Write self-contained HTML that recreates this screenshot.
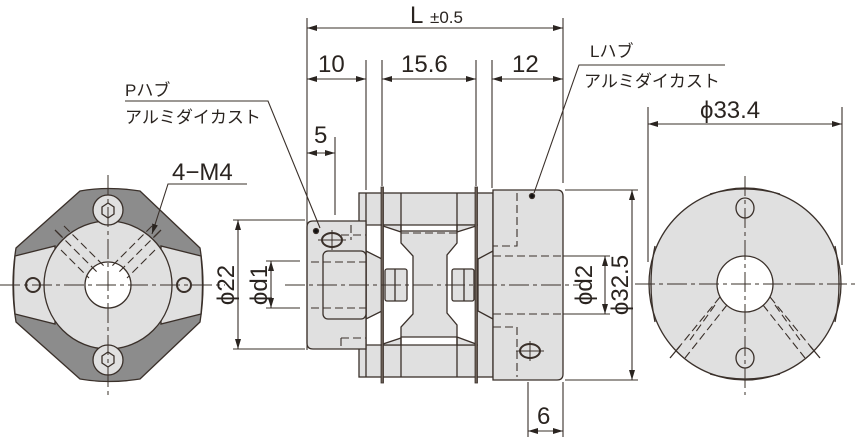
<!DOCTYPE html>
<html><head><meta charset="utf-8"><style>
html,body{margin:0;padding:0;background:#fff}
svg{display:block}
text{font-family:"Liberation Sans","Noto Sans CJK JP",sans-serif;fill:#2a2420}
</style></head><body>
<svg width="855" height="437" viewBox="0 0 855 437" xmlns="http://www.w3.org/2000/svg">
<defs>
<marker id="a" viewBox="0 0 10 6" refX="10" refY="3" markerWidth="10" markerHeight="6" orient="auto-start-reverse" markerUnits="userSpaceOnUse"><path d="M0,0L10,3L0,6z" fill="#2a2420"/></marker>
</defs>
<g stroke="#3a302a" stroke-width="1.3" fill="none">
<!-- LEFT END VIEW -->
<path d="M80,191 Q108,186 140,191 L200,248 Q206,285 200,322 L140,379 Q108,384 80,379 L16,322 Q10,285 16,248 Z" fill="#8c8c8c"/>
<path d="M15,256 L55,246 L55,324 L15,314 Q12,285 15,256Z" fill="#e0e0e0"/>
<path d="M201,256 L161,246 L161,324 L201,314 Q204,285 201,256Z" fill="#e0e0e0"/>
<circle cx="108" cy="285" r="64" fill="#e0e0e0"/>
<circle cx="108" cy="210" r="15" fill="#e0e0e0"/>
<circle cx="108" cy="360" r="15" fill="#e0e0e0"/>
<path d="M102,207 L108,203 L114,207 L114,214 L108,218 L102,214Z"/>
<path d="M102,356 L108,352 L114,356 L114,363 L108,367 L102,363Z"/>
<circle cx="33" cy="285" r="7" stroke-width="2"/>
<circle cx="184" cy="285" r="7" stroke-width="2"/>
<circle cx="108" cy="285" r="23" fill="#fff"/>
<g stroke-dasharray="8,4" stroke-width="1.1">
<path d="M57,232 L99,274 M64,226 L106,268 M61,250 L89,278"/>
<path d="M159,232 L117,274 M152,226 L110,268 M155,250 L127,278"/>
</g>
<path d="M55,230 L62,237 M161,230 L154,237"/>
<path d="M0,285 H225 M108,175 V395" stroke-dasharray="20,4,4,4" stroke-width="1"/>
<!-- MIDDLE SIDE VIEW -->
<rect x="359" y="193" width="134" height="184" fill="#e0e0e0"/>
<rect x="367" y="225" width="111" height="120" fill="#fff" stroke="none"/>
<path d="M367,225 H478 M367,345 H478"/>
<path d="M383,225 L401,225 V231 L457,231 V225 L476,225 V226 L457,232 V243 L447,255 V313 L457,325 V337 L476,344 V345 L457,345 V337 L401,337 V345 L383,345 V344 L401,338 V327 L413,314 V256 L401,243 V232 L383,226Z" fill="#e0e0e0"/>
<path d="M401,193 V231 M457,193 V231 M401,337 V377 M457,337 V377"/>
<path d="M366,251 L382,259 V311 L366,319Z" fill="#e0e0e0"/>
<path d="M478,259 L493,251 V319 L478,311Z" fill="#e0e0e0"/>
<rect x="385" y="269" width="22" height="32" rx="2" fill="#e0e0e0"/>
<rect x="452" y="269" width="22" height="32" rx="2" fill="#e0e0e0"/>
<line x1="395" y1="269" x2="395" y2="301"/><line x1="464" y1="269" x2="464" y2="301"/>
<rect x="381" y="187" width="2.5" height="196" fill="#6a5e56" stroke-width="0.8"/>
<rect x="475" y="187" width="2.5" height="196" fill="#6a5e56" stroke-width="0.8"/>
<line x1="366" y1="193" x2="366" y2="377"/>
<path d="M493,190 H557 Q563,190 563,196 V374 Q563,380 557,380 H493 Z" fill="#e0e0e0"/>
<path d="M313,221 H366 V349 H313 Q307,349 307,343 V227 Q307,221 313,221Z" fill="#e0e0e0"/>
<rect x="323" y="251" width="43" height="68" rx="5" fill="#e0e0e0"/>
<g stroke-dasharray="8,4" stroke-width="1.1">
<path d="M311,262 H366 M311,308 H366 M351,225 V240 M341,235 H366 M341,338 V349 M341,338 H366"/>
<path d="M366,225 H382 M366,345 H382 M401,233 H457 M401,337 H457"/>
<path d="M493,256 H563 M493,314 H563 M517,193 V246 H493 M517,327 V377 M493,327 H517"/>
</g>
<ellipse cx="332" cy="240" rx="10" ry="7" fill="#e0e0e0" stroke-width="2"/>
<ellipse cx="530" cy="351" rx="10" ry="7" fill="#e0e0e0" stroke-width="2"/>
<path d="M318,240 H346 M332,230 V250 M516,351 H544 M530,341 V361" stroke-width="1"/>
<circle cx="316" cy="231" r="2.5" fill="#111"/>
<circle cx="532" cy="196" r="2.5" fill="#111"/>
<path d="M285,285 H580" stroke-dasharray="20,4,4,4" stroke-width="1"/>
<!-- RIGHT END VIEW -->
<circle cx="745" cy="284" r="96" fill="#e0e0e0"/>
<path d="M710,194 Q745,184 780,194 M655,246 Q647,284 655,322 M835,246 Q843,284 835,322 M710,374 Q745,384 780,374"/>
<circle cx="745" cy="284" r="28" fill="#fff"/>
<ellipse cx="745" cy="208" rx="9" ry="10"/>
<ellipse cx="745" cy="358" rx="9" ry="10"/>
<g stroke-dasharray="8,4" stroke-width="1.1">
<path d="M720,297 L675,352 M727,305 L685,358 M715,305 L690,340"/>
<path d="M770,297 L815,352 M763,305 L805,358 M775,305 L800,340"/>
</g>
<path d="M670,358 L680,346 M820,358 L810,346"/>
<path d="M635,284 H855 M745,176 V395" stroke-dasharray="20,4,4,4" stroke-width="1"/>
<!-- DIMENSIONS -->
<g stroke-width="1.1">
<path d="M307,18 V350 M366,60 V190 M382,60 V186 M476,60 V186 M492,60 V188 M563,18 V183 M335,137 V215"/>
<path d="M307,28 H563" marker-start="url(#a)" marker-end="url(#a)"/>
<path d="M307,79 H366" marker-start="url(#a)" marker-end="url(#a)"/>
<path d="M382,79 H476" marker-start="url(#a)" marker-end="url(#a)"/>
<path d="M492,79 H563" marker-start="url(#a)" marker-end="url(#a)"/>
<path d="M307,153 H335" marker-start="url(#a)" marker-end="url(#a)"/>
<path d="M233,220 H305 M233,349 H305 M266,261 H300 M266,308 H300"/>
<path d="M238,220 V349" marker-start="url(#a)" marker-end="url(#a)"/>
<path d="M271,261 V308" marker-start="url(#a)" marker-end="url(#a)"/>
<path d="M563,256 H610 M563,314 H610 M565,190 H638 M565,380 H638"/>
<path d="M605,256 V314" marker-start="url(#a)" marker-end="url(#a)"/>
<path d="M632,190 V380" marker-start="url(#a)" marker-end="url(#a)"/>
<path d="M648,107 V262 M842,107 V265"/>
<path d="M648,124 H842" marker-start="url(#a)" marker-end="url(#a)"/>
<path d="M528,382 V437 M563,382 V437"/>
<path d="M528,431 H563" marker-start="url(#a)" marker-end="url(#a)"/>
<path d="M125,101 H268 L320,228"/>
<path d="M725,65 H579 L534,193"/>
<path d="M247,184 H168 L152,234" marker-end="url(#a)"/>
</g>
</g>
<g font-size="24">
<text x="410" y="23">L</text><text x="430" y="23" font-size="17">±0.5</text>
<text x="318" y="72">10</text>
<text x="401" y="72">15.6</text>
<text x="512" y="72">12</text>
<text x="314" y="143">5</text>
<text x="172" y="180">4−M4</text>
<text x="537" y="424">6</text>
<text x="700" y="118">ϕ33.4</text>
<text transform="translate(234,285) rotate(-90)" text-anchor="middle">ϕ22</text>
<text transform="translate(267,285) rotate(-90)" text-anchor="middle">ϕd1</text>
<text transform="translate(592,285) rotate(-90)" text-anchor="middle">ϕd2</text>
<text transform="translate(628,285) rotate(-90)" text-anchor="middle">ϕ32.5</text>
</g>
<g font-size="17">
<text x="125" y="96">Pハブ</text>
<text x="125" y="123">アルミダイカスト</text>
<text x="590" y="57">Lハブ</text>
<text x="584" y="87">アルミダイカスト</text>
</g>
</svg>
</body></html>
